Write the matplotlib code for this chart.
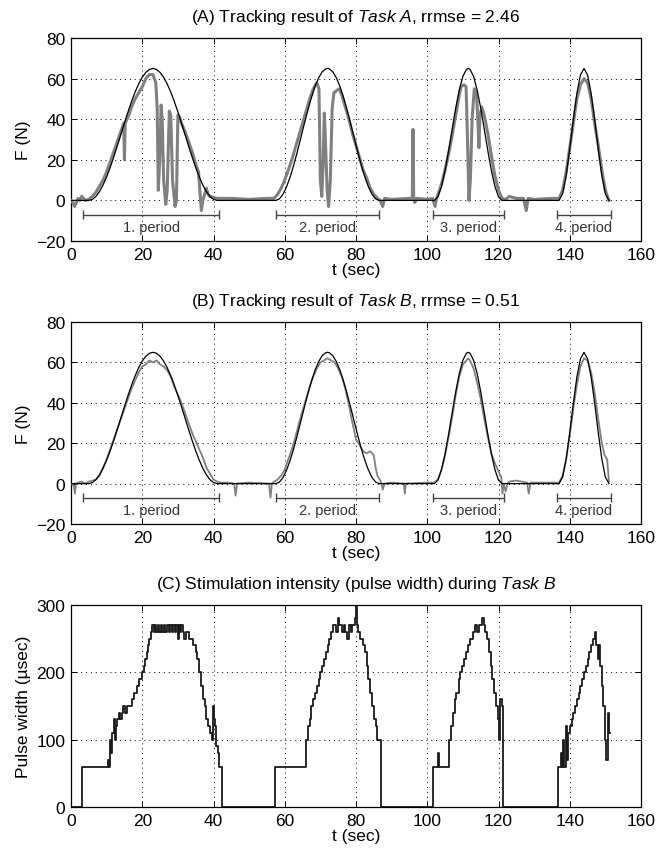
import matplotlib
matplotlib.use("Agg")
import matplotlib.pyplot as plt
from matplotlib.ticker import FuncFormatter

plt.rcParams['font.family'] = ['Liberation Sans', 'DejaVu Sans']
plt.rcParams['mathtext.fontset'] = 'custom'
plt.rcParams['mathtext.rm'] = 'Liberation Sans'
plt.rcParams['mathtext.it'] = 'Liberation Sans:italic'

# ---------------- data ----------------
# reference force profile (black)
ref_t = [0, 5, 6, 7, 8, 9, 10, 11, 12, 13, 14, 15, 16, 17, 18, 19, 20, 21, 22, 23,
         24, 25, 26, 27, 28, 29, 30, 31, 32, 33, 34, 35, 36, 37, 38, 39, 40, 41,
         57.5, 58.5, 59.5, 60.5, 61.5, 62.5, 63.5, 64.5, 65.5, 66.5, 67.5, 68.5, 69.5, 70.5, 71.5, 72.0,
         72.5, 73.5, 74.5, 75.5, 76.5, 77.5, 78.5, 79.5, 80.5, 81.5, 82.5, 83.5, 84.5, 85.5, 86.5,
         102, 103, 104, 105, 106, 107, 108, 109, 110, 111, 111.5, 112, 113, 114, 115, 116, 117, 118, 119, 120, 121,
         137, 138, 139, 140, 141, 142, 143, 144, 145, 146, 147, 148, 149, 150, 151]
ref_F = [0, 0, 0.49, 1.96, 4.35, 7.60, 11.61, 16.25, 21.39, 26.86, 32.5, 38.14, 43.61, 48.75, 53.39, 57.40, 60.65, 63.04, 64.51, 65,
         64.51, 63.04, 60.65, 57.40, 53.39, 48.75, 43.61, 38.14, 32.5, 26.86, 21.39, 16.25, 11.61, 7.60, 4.35, 1.96, 0.49, 0,
         0, 0.76, 3.00, 6.63, 11.46, 17.28, 23.81, 30.74, 37.76, 44.53, 50.74, 56.10, 60.35, 63.30, 64.81, 65,
         64.81, 63.30, 60.35, 56.10, 50.74, 44.53, 37.76, 30.74, 23.81, 17.28, 11.46, 6.63, 3.00, 0.76, 0,
         0, 1.76, 6.85, 14.73, 24.52, 35.18, 45.56, 54.51, 61.08, 64.56, 65, 64.56, 61.08, 54.51, 45.56, 35.18, 24.52, 14.73, 6.85, 1.76, 0,
         0, 3.22, 12.24, 25.27, 39.73, 52.76, 61.78, 65, 61.78, 52.76, 39.73, 25.27, 12.24, 3.22, 0]

# Task A measured force (gray)
taskA_t = [0, 0.5, 1, 1.5, 2, 2.5, 3, 3.5, 4, 5, 6, 7, 8, 9, 10, 11, 12, 13, 14, 14.8, 15.0, 15.2, 16, 17, 18, 19, 20,
           21, 22, 23, 23.8, 24.2, 24.5, 24.9, 25.3, 25.6, 26.0, 26.6, 27.0, 27.6, 28.0, 28.5, 29.2, 29.6, 30.0, 30.5,
           31, 32, 33, 34, 35, 35.8, 36.2, 36.6, 37, 37.5, 38, 38.5, 39, 40, 41, 45, 50, 55, 57, 58, 59, 60, 61, 62,
           63, 64, 65, 66, 67, 68, 69, 69.6, 70.0, 70.4, 70.8, 71.1, 71.4, 71.9, 72.3, 72.8, 73.3, 73.8, 74.5, 75.3,
           76, 77, 78, 79, 80, 81, 82, 83, 84, 85, 86, 86.8, 87.5, 88, 90, 95, 95.8, 96.0, 96.2, 96.5, 97, 100, 101.5,
           102.2, 102.6, 103, 104, 105, 106, 107, 108, 109, 109.5, 110.3, 110.9, 111.3, 111.7, 112.1, 112.6, 113.2,
           113.8, 114.2, 114.5, 114.8, 115.3, 116, 117, 118, 119, 120, 121, 122, 123, 124, 125, 127, 127.8, 128.3,
           130, 135, 137, 138, 139, 140, 141, 142, 143, 144, 145, 146, 147, 148, 149, 150, 151]
taskA_F = [0, -1, -3, -1, 1, 0, 2, 1, 0, 0.5, 2, 4, 7, 10, 14, 19, 24, 29, 34, 38, 20, 38, 41, 46, 50, 53, 56,
           60, 62, 62, 58, 45, 5, 20, 47, 40, 10, -2, 5, 44, 42, 10, -3, 0, 42, 41,
           38, 34, 29, 24, 18, 14, 4, -5, 0, 3, 6, 3, 2, 1.5, 1, 1, 0.5, 1, 1, 3, 6, 10, 15, 20,
           26, 32, 38, 44, 50, 55, 58, 55, 10, 2, 20, 43, 30, 5, -3, 10, 45, 53, 54, 55,
           52, 46, 40, 33, 27, 21, 15, 11, 6, 3, 1, 0, -3, 1, 0.5, 1, 1, 35, 1, -1, 1, 0.5, 1,
           -3, 1, 3, 8, 15, 23, 32, 42, 52, 56, 57, 56, 30, 0, 10, 40, 55,
           53, 40, 26, 42, 46, 42, 33, 22, 12, 5, 1, 0.5, 2, 1.5, 1, 1, -5, 1,
           0.5, 1, 1, 5, 14, 26, 38, 50, 57, 60, 58, 50, 38, 27, 15, 5, 0]

# Task B measured force (gray)
taskB_t = [0, 0.8, 1.1, 1.4, 2, 3, 4, 5, 6, 7, 8, 9, 10, 11, 12, 13, 14, 15, 16, 17, 18, 19, 20, 21, 22, 23, 24,
           25, 26, 27, 28, 29, 30, 31, 32, 33, 34, 35, 36, 37, 38, 39, 40, 41, 42, 44, 45.8, 46.2, 46.6, 50, 55.6,
           56, 56.4, 57, 58, 59, 60, 61, 62, 63, 64, 65, 66, 67, 68, 69, 70, 71, 72, 73, 74, 75, 76, 77, 78, 79, 80,
           81, 82, 83, 84, 85, 85.5, 86, 87, 87.5, 88, 90, 93.4, 93.7, 94, 100, 102, 103, 104, 105, 106, 107, 108,
           109, 110, 111, 111.5, 112, 113, 114, 115, 116, 117, 118, 119, 120, 120.8, 121.1, 121.5, 122, 122.5, 123,
           125, 128, 128.5, 129, 132, 137, 138, 139, 140, 141, 142, 143, 144, 145, 146, 147, 148, 149, 149.8, 150.5, 151]
taskB_F = [0, -1, -5, 0, 0.5, 1, 0, 1, 1.5, 2, 4, 8, 12, 17, 22, 27, 32, 37, 42, 47, 51, 55, 58, 59, 61, 60, 61,
           59, 58, 56, 53, 48, 44, 40, 35, 30, 25, 21, 17, 13, 8, 5, 2, 1, 0.5, 0.5, 0, -6, 0, 0.5, 0,
           -7, 0, 1, 2, 4, 7, 12, 17, 23, 30, 36, 42, 48, 53, 57, 60, 61, 62, 61, 60, 57, 53, 47, 39, 30, 22,
           19, 16, 15, 16, 14, 8, 4, 1, -3, 0, 0.5, 0, -5, 0, 0.5, 0.5, 2, 7, 14, 23, 33, 44,
           53, 59, 61, 62, 61, 57, 50, 42, 32, 23, 15, 10, 6, 3, -5, 0, -4, 0, 1,
           1.5, 0.5, -5, 0.5, 0.5, 0.5, 4, 12, 24, 37, 49, 58, 62, 61, 55, 45, 32, 20, 14, 12, 1]

# stimulation pulse width during Task B
pw_t = [0, 3.2, 10.4, 10.7, 11.0, 11.3, 11.6, 12.0, 12.3, 12.6, 13.0, 13.4, 13.8, 14.2, 14.6, 15.2, 15.6, 16.0,
        17.0, 17.8, 18.5, 19.2, 19.8, 20.4, 20.8, 21.2, 21.6, 22.0, 22.4, 22.8, 23.2, 23.5, 23.8, 24.3, 24.6,
        25.2, 25.5, 26.2, 26.5, 27.0, 27.4, 27.8, 28.3, 28.6, 29.2, 29.5, 30.0, 30.3, 30.6, 31.0, 31.4, 31.8,
        32.3, 33.0, 33.5, 34.3, 35.0, 35.5, 36.0, 36.5, 37.0, 37.5, 38.0, 38.5, 39.0, 39.5, 39.8, 40.1, 40.5,
        40.8, 41.2, 41.6, 42.4, 57.4, 66.0, 66.5, 67.0, 67.5, 68.0, 68.5, 69.0, 69.5, 70.0, 70.5, 71.0, 71.5,
        72.0, 72.5, 73.0, 73.5, 74.5, 75.0, 75.3, 76.0, 76.5, 77.0, 77.5, 78.0, 78.5, 79.0, 79.6, 79.9, 80.2,
        80.6, 81.0, 82.0, 82.5, 83.0, 83.5, 84.0, 84.5, 85.0, 85.5, 86.0, 87.0, 101.5, 103.0, 103.3, 106.2,
        106.7, 107.2, 107.7, 108.2, 108.8, 109.3, 109.8, 110.3, 110.8, 111.3, 112.0, 112.8, 113.5, 114.0, 114.5,
        115.3, 115.8, 116.3, 116.8, 117.3, 117.8, 118.3, 118.8, 119.3, 119.8, 120.2, 120.5, 120.9, 121.3,
        136.6, 137.5, 137.8, 138.2, 138.5, 139.0, 139.3, 139.6, 140.0, 140.5, 141.0, 141.5, 142.0, 142.5,
        143.0, 143.5, 144.0, 144.5, 145.0, 145.5, 146.0, 146.6, 147.0, 147.3, 147.8, 148.2, 148.6, 149.0,
        149.4, 149.8, 150.2, 150.6, 150.9, 151.2]
pw_us = [0, 60, 70, 60, 100, 80, 110, 130, 100, 120, 130, 140, 130, 140, 150, 140, 150, 150,
         160, 170, 180, 190, 200, 210, 220, 230, 240, 250, 260, 270, 260, 270, 260, 270, 260,
         270, 260, 270, 260, 270, 260, 270, 260, 270, 260, 270, 250, 270, 260, 270, 260, 250,
         260, 250, 250, 240, 230, 220, 200, 180, 160, 150, 130, 120, 110, 100, 150, 130, 120,
         90, 80, 60, 0, 60, 100, 120, 130, 150, 160, 170, 180, 190, 200, 210, 220, 230,
         240, 250, 260, 270, 260, 280, 270, 260, 270, 260, 250, 270, 260, 270, 280, 300, 270,
         260, 250, 240, 230, 210, 190, 170, 150, 130, 120, 100, 0, 60, 80, 60, 100,
         120, 140, 160, 170, 190, 200, 210, 220, 230, 240, 250, 260, 270, 260, 270,
         280, 270, 260, 250, 230, 210, 190, 170, 150, 130, 100, 160, 150, 0,
         60, 80, 60, 100, 60, 120, 70, 110, 120, 130, 140, 150, 160, 170,
         180, 190, 200, 210, 220, 230, 240, 250, 260, 240, 220, 240, 210, 180,
         150, 100, 70, 140, 110, 110]

period_start = [3.5, 57.5, 101.5, 136.5]
period_end = [41.5, 86.5, 121.5, 151.5]
period_labels = ['1. period', '2. period', '3. period', '4. period']
period_bar_F = -7
period_text_F = -13

xticks = [0, 20, 40, 60, 80, 100, 120, 140, 160]
F_ticks = [-20, 0, 20, 40, 60, 80]
pw_ticks = [0, 100, 200, 300]

titles = [r'(A) Tracking result of $\it{Task\ A}$, rrmse = 2.46',
          r'(B) Tracking result of $\it{Task\ B}$, rrmse = 0.51',
          r'(C) Stimulation intensity (pulse width) during $\it{Task\ B}$']

# ---------------- figure ----------------
fig = plt.figure(figsize=(6.57, 8.54), dpi=100)
W, H = 657, 854
boxes = [(71, 39, 641, 242), (71, 323, 641, 525), (71, 606, 641, 808)]
axes = [fig.add_axes([l / W, 1 - b / H, (r - l) / W, (b - t) / H]) for (l, t, r, b) in boxes]

fmt = FuncFormatter(lambda v, p: ('\u2212%d' % -v) if v < 0 else '%d' % v)


def style(ax, yticks, ylim):
    ax.set_xlim(0, 160)
    ax.set_ylim(*ylim)
    ax.set_xticks(xticks)
    ax.set_yticks(yticks)
    ax.yaxis.set_major_formatter(fmt)
    ax.grid(True, linestyle=(0, (1, 4)), color='black', linewidth=0.7)
    ax.tick_params(direction='in', length=4, width=0.7, top=True, right=True,
                   labelsize=12.5, pad=4)
    for s in ax.spines.values():
        s.set_linewidth(0.9)
    ax.set_xlabel('t (sec)', fontsize=12.5, labelpad=0)


for i, (ax, gt, gF, lw) in enumerate([(axes[0], taskA_t, taskA_F, 2.2),
                                       (axes[1], taskB_t, taskB_F, 1.3)]):
    ax.plot(gt, gF, color='#808080', linewidth=lw, zorder=3)
    ax.plot(ref_t, ref_F, color='black', linewidth=0.9, zorder=4)
    for s, e, lab in zip(period_start, period_end, period_labels):
        ax.hlines(period_bar_F, s, e, color='#444444', linewidth=1.0, zorder=3)
        ax.vlines([s, e], period_bar_F - 2.2, period_bar_F + 2.2, color='#444444', linewidth=1.0, zorder=3)
        ax.text((s + e) / 2, period_text_F, lab, ha='center', va='center',
                fontsize=10.5, color='#333333')
    style(ax, F_ticks, (-20, 80))
    ax.set_ylabel('F (N)', fontsize=12.5, labelpad=4)
    ax.set_title(titles[i], fontsize=12.5, pad=12)

ax = axes[2]
ax.plot(pw_t, pw_us, color='#1a1a1a', linewidth=1.3, drawstyle='steps-post')
style(ax, pw_ticks, (0, 300))
ax.set_ylabel('Pulse width (\u00b5sec)', fontsize=12.5, labelpad=4)
ax.set_title(titles[2], fontsize=12.5, pad=12)

fig.savefig('out.png', dpi=100)
